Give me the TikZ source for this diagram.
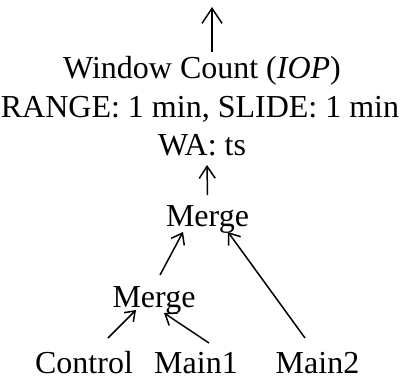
\documentclass[tikz,border=0pt]{standalone}
\usepackage{fontspec}
\setmainfont{Liberation Serif}
\usetikzlibrary{arrows.meta,calc}
\begin{document}
\begin{tikzpicture}[x=1pt,y=1pt,
  lbl/.style={anchor=base,inner sep=0pt,font=\fontsize{32}{38}\selectfont},
  conn/.style={line width=1.5pt,-{Straight Barb[length=10pt,width=15pt,line width=1.5pt]}},
  bigconn/.style={line width=1.5pt,-{Straight Barb[length=15pt,width=20pt,line width=1.5pt]}},
  midconn/.style={line width=1.5pt,-{Straight Barb[length=12pt,width=16pt,line width=1.5pt]}},
  smallconn/.style={line width=1.5pt,-{Straight Barb[length=9pt,width=13pt,line width=1.5pt]}}]
\useasboundingbox (0,0) rectangle (401,381);
\node[lbl] (win) at (202,302) {Window Count (\textit{IOP})};
\node[lbl] (range) at (200,264) {RANGE: 1 min, SLIDE: 1 min};
\node[lbl] (wa) at (202,226) {WA: ts};
\node[lbl] (merge1) at (207.5,155) {Merge};
\node[lbl] (merge2) at (154,74) {Merge};
\node[lbl] (control) at (84,8) {Control};
\node[lbl] (main1) at (196,8) {Main1};
\node[lbl] (main2) at (317.5,8) {Main2};
\coordinate (out) at (212,374);
\draw[bigconn] ($(win.base)+(10,27)$) -- (out);
\draw[midconn] ($(merge1.base)+(0,31)$) -- ($(wa.base)+(5,-10)$);
\draw[conn] ($(merge2.base)+(6,32)$) -- ($(merge1.base)+(-24.5,-6)$);
\draw[conn] ($(main2.base)+(-12.5,35)$) -- ($(merge1.base)+(20.5,-6)$);
\draw[smallconn] ($(control.base)+(24,35)$) -- ($(merge2.base)+(-18,-3)$);
\draw[conn] ($(main1.base)+(13,30)$) -- ($(merge2.base)+(10,-6)$);
\end{tikzpicture}
\end{document}
